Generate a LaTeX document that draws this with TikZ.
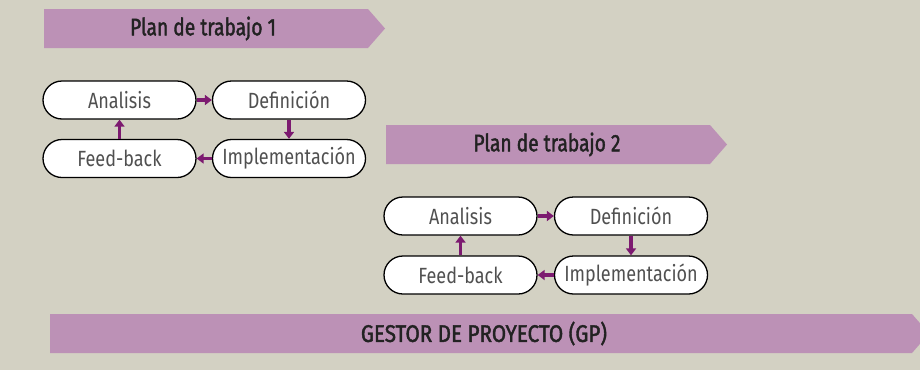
\documentclass[tikz,border=0pt]{standalone}
\usepackage{fontspec}
\setmainfont{Fira Sans}[FakeStretch=0.82]
\newfontfamily\banfont{Fira Sans}[FakeStretch=0.8, FakeBold=1.6]
\newfontfamily\gpfont{Fira Sans}[FakeStretch=0.86, FakeBold=1.6]
\usetikzlibrary{shapes.misc,arrows.meta}
\definecolor{bgc}{HTML}{D3D1C3}
\definecolor{bannerc}{HTML}{BC91B6}
\definecolor{arrc}{HTML}{7C1A70}
\definecolor{txtc}{HTML}{505050}
\definecolor{btxt}{HTML}{222222}
\tikzset{
  stagebox/.style={draw=black, line width=1.3pt, fill=white, rounded rectangle,
    minimum width=153pt, minimum height=38pt, inner sep=0pt,
    font=\fontsize{22}{22}\selectfont, text=txtc},
  flowarr/.style={draw=arrc, line width=3.4pt, -{Triangle[length=7pt,width=10pt]}},
  bannertext/.style={font=\banfont\fontsize{24}{24}\selectfont, text=btxt, inner sep=0pt},
  bannerfill/.style={fill=bannerc}
}
\begin{document}
\begin{tikzpicture}[x=1pt,y=-1pt]
\fill[bgc] (0,0) rectangle (920,370);
\useasboundingbox (0,0) rectangle (920,370);
\clip (0,0) rectangle (920,370);

% banners
\fill[bannerfill] (44,9) -- (368,9) -- (385,28.5) -- (368,48) -- (44,48) -- cycle;
\node[bannertext] (b1) at (203,28.5) {Plan de trabajo 1};
\fill[bannerfill] (386,125) -- (710,125) -- (727,144.5) -- (710,164) -- (386,164) -- cycle;
\node[bannertext] (b2) at (547,144.5) {Plan de trabajo 2};
\fill[bannerfill] (50,314) -- (912,314) -- (929,333.5) -- (912,353) -- (50,353) -- cycle;
\node[bannertext, font=\gpfont\fontsize{24}{24}\selectfont] (b3) at (484,333.5) {GESTOR DE PROYECTO (GP)};

% group 1
\node[stagebox] (a1) at (119.5,100) {Analisis};
\node[stagebox] (d1) at (289,100) {Definición};
\node[stagebox] (f1) at (119.5,158.5) {Feed-back};
\node[stagebox] (i1) at (289,158.5) {Implementación};
\draw[flowarr] (a1.east) -- (d1.west);
\draw[flowarr] (d1.south) -- (i1.north);
\draw[flowarr] (i1.west) -- (f1.east);
\draw[flowarr] (f1.north) -- (a1.south);

% group 2
\node[stagebox] (a2) at (460.5,216) {Analisis};
\node[stagebox] (d2) at (631,216) {Definición};
\node[stagebox] (f2) at (460.5,275) {Feed-back};
\node[stagebox] (i2) at (631,275) {Implementación};
\draw[flowarr] (a2.east) -- (d2.west);
\draw[flowarr] (d2.south) -- (i2.north);
\draw[flowarr] (i2.west) -- (f2.east);
\draw[flowarr] (f2.north) -- (a2.south);
\end{tikzpicture}
\end{document}
